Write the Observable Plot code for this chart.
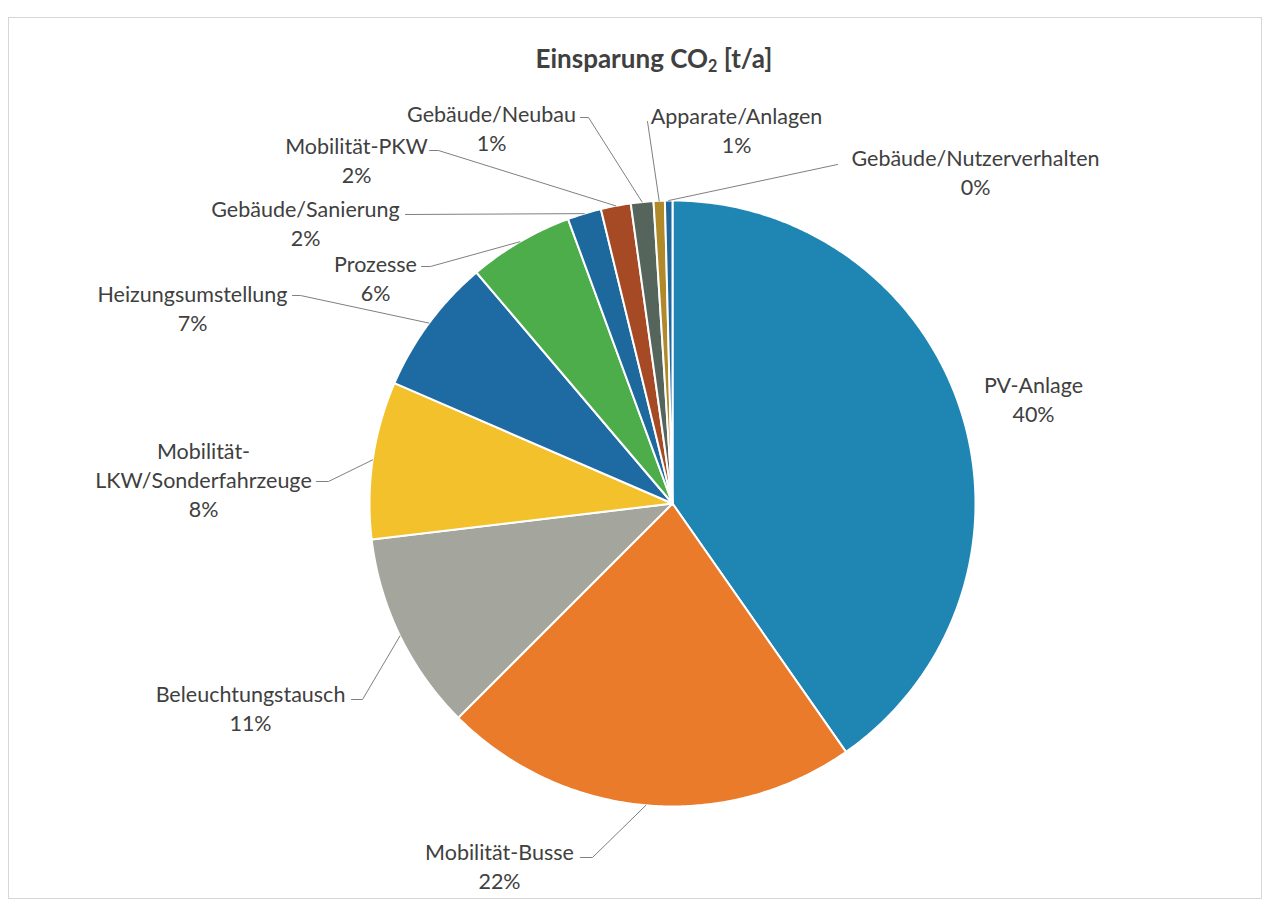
<!DOCTYPE html>
<html>
<head>
<meta charset="utf-8">
<script src="https://cdn.jsdelivr.net/npm/d3@7"></script>
<script src="https://cdn.jsdelivr.net/npm/@observablehq/plot@0.6"></script>
<style>
  html, body { margin: 0; padding: 0; background: #ffffff; }
  #wrap { position: relative; width: 1269px; height: 904px; overflow: hidden; font-family: Lato, "Open Sans", sans-serif; }
  #frame { position: absolute; left: 8px; top: 17px; width: 1254px; height: 882px; border: 1px solid #d6d6d6; box-sizing: border-box; pointer-events: none; }
  #title { position: absolute; left: 654px; top: 58px; transform: translate(-50%, -50%); white-space: nowrap;
           font-size: 26px; font-weight: bold; color: #404040; }
  #title sub { font-size: 0.62em; vertical-align: -0.25em; line-height: 0; }
  #chart { position: absolute; left: 0; top: 80px; }
</style>
</head>
<body>
<div id="wrap">
  <div id="frame"></div>
  <div id="title">Einsparung CO<sub>2</sub> [t/a]</div>
  <div id="chart"></div>
</div>
<script>
// ---- data ----
const categories = [
  "PV-Anlage", "Mobilität-Busse", "Beleuchtungstausch", "Mobilität-LKW/Sonderfahrzeuge",
  "Heizungsumstellung", "Prozesse", "Gebäude/Sanierung", "Mobilität-PKW",
  "Gebäude/Neubau", "Apparate/Anlagen", "Gebäude/Nutzerverhalten"
];
const shares = [40.3, 22.2, 10.6, 8.4, 7.3, 5.6, 1.8, 1.6, 1.2, 0.6, 0.4];
const percentLabels = ["40%", "22%", "11%", "8%", "7%", "6%", "2%", "2%", "1%", "1%", "0%"];
const labelNames = [
  "PV-Anlage", "Mobilität-Busse", "Beleuchtungstausch", "Mobilität-\nLKW/Sonderfahrzeuge",
  "Heizungsumstellung", "Prozesse", "Gebäude/Sanierung", "Mobilität-PKW",
  "Gebäude/Neubau", "Apparate/Anlagen", "Gebäude/Nutzerverhalten"
];
const sliceColors = [
  "#1f86b4", "#ea7b2b", "#a4a59d", "#f2c12c", "#1e6ba4", "#4dad4b",
  "#1d689c", "#a64a25", "#56655b", "#b08a2a", "#20679d"
];

// ---- layout (pixel positions on the page) ----
const W = 1269, H = 824, TOP = 80;
const CX = 672, CY = 503, R = 303;
const labelLayout = [
  {x: 1033, y: 398, lead: []},
  {x: 499, y: 865, lead: [[580, 857], [592, 857]]},
  {x: 250, y: 707, lead: [[351, 699], [362, 699]]},
  {x: 203, y: 478, lead: [[316, 481], [328, 481]]},
  {x: 192, y: 307, lead: [[292, 295], [300, 295]]},
  {x: 375, y: 277, lead: [[421, 266], [430, 266]]},
  {x: 305, y: 222, lead: [[405, 214]]},
  {x: 356, y: 159, lead: [[429, 150], [438, 150]]},
  {x: 491, y: 127, lead: [[580, 117], [588, 117]]},
  {x: 736, y: 129, lead: [[647, 121]]},
  {x: 975, y: 171, lead: [[837, 164]]}
];

// ---- build geometry from data ----
const arcs = d3.pie().sort(null).value(d => d)(shares);
const polar = (a, r) => [CX + r * Math.sin(a), CY - r * Math.cos(a)];

const slicePts = [];
arcs.forEach((a, i) => {
  const cat = categories[i];
  slicePts.push({cat, x: CX, y: CY});
  const n = Math.max(2, Math.ceil((a.endAngle - a.startAngle) / (Math.PI / 360)));
  for (let k = 0; k <= n; k++) {
    const t = a.startAngle + (a.endAngle - a.startAngle) * k / n;
    const [x, y] = polar(t, R);
    slicePts.push({cat, x, y});
  }
});

const leaderPts = [];
const labels = [];
arcs.forEach((a, i) => {
  const L = labelLayout[i];
  labels.push({cat: categories[i], x: L.x, y: L.y, text: labelNames[i] + "\n" + percentLabels[i]});
  if (L.lead.length) {
    L.lead.forEach(([x, y]) => leaderPts.push({cat: categories[i], x, y}));
    const [px, py] = polar((a.startAngle + a.endAngle) / 2, R);
    leaderPts.push({cat: categories[i], x: px, y: py});
  }
});

const plot = Plot.plot({
  width: W,
  height: H,
  margin: 0,
  x: {domain: [0, W], range: [0, W], axis: null},
  y: {domain: [TOP, TOP + H], range: [0, H], axis: null},
  color: {type: "ordinal", domain: categories, range: sliceColors},
  style: {fontFamily: "Lato, 'Open Sans', sans-serif", background: "transparent"},
  marks: [
    Plot.line(slicePts, {x: "x", y: "y", z: "cat", fill: "cat", stroke: "#ffffff", strokeWidth: 2, curve: "linear-closed", strokeLinejoin: "round"}),
    Plot.line(leaderPts, {x: "x", y: "y", z: "cat", stroke: "#7f7f7f", strokeWidth: 1}),
    Plot.text(labels, {x: "x", y: "y", text: "text", fontSize: 21.5, lineHeight: 1.36, fill: "#404040", textAnchor: "middle", lineAnchor: "middle"})
  ]
});
document.getElementById("chart").appendChild(plot);
</script>
</body>
</html>
